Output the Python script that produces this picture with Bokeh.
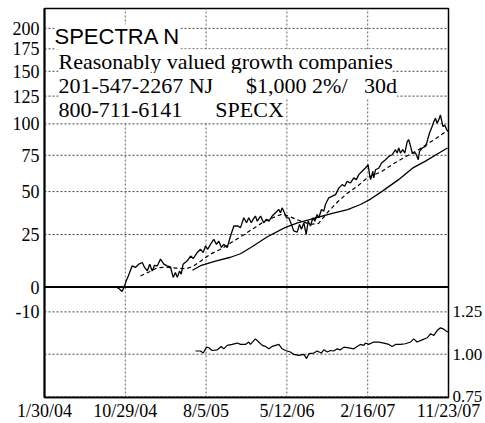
from bokeh.plotting import figure
from bokeh.models import (FixedTicker, LinearAxis, Range1d, LinearScale, Span,
                          Label, NumeralTickFormatter)
from bokeh.embed import file_html
from bokeh.resources import INLINE

# ---------------- data ----------------
# x axis: weeks since 1/30/04
date_ticks = [0, 39, 78, 117, 156, 195]
date_labels = ["1/30/04", "10/29/04", "8/5/05", "5/12/06", "2/16/07", "11/23/07"]

pct_ticks = [200, 175, 150, 125, 100, 75, 50, 25, 0, -10]
rel_ticks = [1.25, 1.00, 0.75]

fund_week = [34.7, 36.2, 37.4, 38.6, 39.6, 40.5, 42.3, 43.9, 45.5, 47.2,
             48.3, 49.6, 50.8, 52.0, 53.1, 54.4, 56.0, 57.6, 59.2, 60.8,
             62.1, 63.2, 64.1, 65.2, 66.0, 66.9, 68.9, 70.5, 71.8, 73.7,
             75.3, 76.6, 77.7, 78.8, 80.1, 81.7, 83.0, 84.1, 85.4, 86.5,
             88.2, 89.8, 91.4, 93.3, 94.6, 96.2, 97.5, 98.6, 99.8, 100.7,
             101.8, 102.7, 104.3, 105.8, 107.0, 108.3, 109.9, 111.5, 113.1, 113.9,
             114.7, 115.8, 116.8, 117.9, 119.2, 120.3, 122.0, 123.1, 124.0, 125.2,
             126.3, 127.3, 128.4, 129.5, 130.5, 131.6, 132.4, 133.7, 134.8, 135.6,
             137.2, 138.9, 140.5, 142.1, 143.7, 144.9, 146.1, 147.7, 149.3, 150.5,
             151.7, 153.3, 154.9, 156.2, 156.9, 157.4, 158.5, 158.9, 159.8, 161.4,
             162.7, 164.6, 166.2, 167.8, 169.4, 170.2, 171.0, 171.8, 172.9, 173.9,
             175.1, 175.8, 176.7, 177.5, 179.1, 180.4, 181.0, 182.3, 183.9, 184.7,
             185.8, 187.1, 187.9, 188.7, 189.5, 190.3, 191.1, 192.3, 193.2, 194.2,
             194.9]
fund_pct = [0.0, -0.8, -1.9, 0.4, 3.0, 4.9, 9.4, 8.7, 10.2, 11.0,
            8.7, 7.1, 10.2, 7.1, 9.7, 9.4, 12.6, 10.2, 9.4, 9.0,
            4.2, 6.4, 4.2, 7.1, 5.6, 10.2, 11.8, 14.1, 12.9, 15.8,
            17.4, 15.8, 19.1, 17.4, 19.9, 22.5, 19.9, 21.6, 18.3, 19.9,
            18.3, 24.2, 29.6, 29.6, 28.7, 34.2, 31.4, 34.2, 31.4, 33.3,
            35.2, 32.3, 35.2, 31.4, 33.3, 32.3, 35.2, 37.1, 39.0, 37.1,
            40.0, 37.1, 34.2, 34.2, 30.5, 26.9, 26.3, 30.5, 27.8, 31.4,
            25.1, 32.3, 29.6, 34.2, 32.3, 36.1, 34.2, 39.0, 38.0, 42.0,
            46.1, 47.1, 48.1, 52.4, 54.5, 53.4, 56.7, 55.6, 59.0, 57.8,
            61.2, 63.5, 65.8, 68.2, 61.2, 57.8, 63.5, 59.0, 64.6, 65.8,
            69.4, 71.7, 74.2, 75.4, 79.2, 76.7, 80.5, 76.7, 79.2, 76.7,
            85.6, 86.9, 81.7, 76.7, 76.7, 71.7, 77.9, 80.5, 81.7, 85.6,
            92.2, 97.7, 101.9, 104.8, 100.5, 103.4, 107.7, 97.7, 99.1, 94.9,
            93.6]

ma_short_week = [46.3, 50.2, 54.5, 58.9, 63.7, 68.5, 71.9, 75.3, 80.1, 85.9,
                 91.2, 96.1, 100.9, 105.7, 110.5, 114.9, 118.7, 123.6, 128.4, 132.3,
                 136.6, 141.4, 146.3, 151.1, 155.9, 162.2, 168.5, 174.2, 180.5, 187.3,
                 194.5]
ma_short_pct = [4.8, 6.5, 8.6, 8.8, 8.4, 8.1, 9.3, 11.6, 15.0, 17.9,
                21.5, 24.8, 28.3, 31.9, 34.4, 36.4, 34.7, 32.4, 30.5, 31.0,
                37.3, 43.5, 49.1, 53.5, 59.2, 62.9, 68.9, 73.9, 79.2, 86.1,
                94.5]

ma_long_week = [71.4, 75.3, 82.5, 89.8, 94.6, 99.4, 107.6, 115.8, 122.1, 129.8,
                138.0, 146.3, 152.5, 157.4, 163.1, 170.9, 177.6, 183.9, 190.2, 194.5]
ma_long_pct = [7.4, 9.5, 11.6, 13.5, 15.2, 18.2, 23.8, 28.6, 31.3, 33.8,
               36.4, 39.0, 42.0, 45.3, 50.3, 57.8, 65.7, 70.7, 76.5, 80.5]

rel_week = [72.9, 75.3, 76.6, 78.2, 79.3, 80.9, 83.4, 85.3, 86.5, 88.2,
            90.6, 93.0, 94.6, 97.0, 98.6, 99.4, 101.8, 103.4, 105.1, 106.7,
            108.3, 109.9, 111.5, 113.1, 114.7, 116.3, 118.7, 120.3, 122.7, 125.2,
            126.5, 127.6, 130.0, 131.6, 133.6, 134.8, 136.5, 138.0, 139.6, 141.3,
            142.9, 144.5, 146.9, 149.3, 150.9, 152.5, 154.1, 154.9, 156.5, 158.9,
            161.4, 163.8, 166.2, 167.8, 169.4, 171.8, 174.2, 176.7, 178.2, 179.9,
            182.3, 184.7, 186.3, 187.9, 189.5, 191.1, 192.4, 193.5, 194.7]
rel_value = [1.019, 1.019, 1.007, 1.042, 1.038, 1.022, 1.026, 1.046, 1.032, 1.052,
             1.058, 1.066, 1.058, 1.058, 1.072, 1.058, 1.091, 1.072, 1.052, 1.046,
             1.032, 1.046, 1.052, 1.058, 1.032, 1.022, 1.013, 0.999, 0.993, 0.999,
             0.974, 1.003, 1.007, 1.019, 1.007, 1.026, 1.013, 1.022, 1.019, 1.032,
             1.026, 1.042, 1.038, 1.032, 1.046, 1.058, 1.052, 1.066, 1.058, 1.072,
             1.072, 1.066, 1.058, 1.046, 1.058, 1.058, 1.062, 1.072, 1.091, 1.072,
             1.085, 1.097, 1.121, 1.111, 1.140, 1.156, 1.150, 1.140, 1.131]

# ---------------- layout geometry (canvas px) ----------------
W, H = 485, 423
FRAME_LEFT, FRAME_RIGHT = 44, 448
FRAME_TOP, FRAME_BOTTOM = 8, 399
ZERO_Y, PX_PER_DECADE = 288, 545.0        # pixel of the 0 line, log scale
REL_125_Y, REL_075_Y = 313, 398           # pixels of rel 1.25 / 0.75


def lv(py):   # pixel -> value on the (100 + pct) log axis
    return 10 ** (2 + (ZERO_Y - py) / PX_PER_DECADE)


def rv(py):   # pixel -> value on relative-strength axis
    return 1.25 - (py - REL_125_Y) * 0.5 / (REL_075_Y - REL_125_Y)


def wx(px):   # pixel -> week
    return (px - FRAME_LEFT) * date_ticks[-1] / (FRAME_RIGHT - FRAME_LEFT)


y_lo, y_hi = lv(FRAME_BOTTOM), lv(FRAME_TOP)
p = figure(width=W, height=H, output_backend="svg", toolbar_location=None,
           x_range=Range1d(date_ticks[0], date_ticks[-1]),
           y_range=Range1d(y_lo, y_hi),
           y_axis_type="log",
           min_border_left=FRAME_LEFT, min_border_right=W - FRAME_RIGHT,
           min_border_top=FRAME_TOP, min_border_bottom=H - FRAME_BOTTOM)
p.extra_y_ranges = {"rel": Range1d(rv(FRAME_BOTTOM), rv(FRAME_TOP))}
p.extra_y_scales = {"rel": LinearScale()}

p.background_fill_color = "white"
p.border_fill_color = "white"
p.outline_line_color = "black"
p.outline_line_width = 1.5

SERIF = "Liberation Serif"

# axes
yax = p.yaxis[0]
yax.ticker = FixedTicker(ticks=[100 + t for t in pct_ticks])
yax.major_label_overrides = {100 + t: str(t) for t in pct_ticks}
yax.major_tick_out = 0
yax.major_tick_in = 0
yax.minor_tick_out = 0
yax.minor_tick_in = 0
yax.axis_line_width = 2
yax.axis_line_color = "black"
yax.major_label_standoff = 5
yax.major_label_text_font = SERIF
yax.major_label_text_font_size = "18px"
yax.major_label_text_color = "black"

xax = p.xaxis[0]
xax.ticker = FixedTicker(ticks=date_ticks)
xax.major_label_overrides = {t: l for t, l in zip(date_ticks, date_labels)}
xax.major_tick_out = 0
xax.major_tick_in = 0
xax.minor_tick_out = 0
xax.axis_line_color = "black"
xax.axis_line_width = 1.5
xax.major_label_standoff = 3
xax.major_label_text_font = SERIF
xax.major_label_text_font_size = "18px"
xax.major_label_text_color = "black"

rax = LinearAxis(y_range_name="rel", ticker=FixedTicker(ticks=rel_ticks),
                 formatter=NumeralTickFormatter(format="0.00"))
rax.major_tick_out = 0
rax.major_tick_in = 0
rax.minor_tick_out = 0
rax.axis_line_color = None
rax.major_label_standoff = 4
rax.major_label_text_font = SERIF
rax.major_label_text_font_size = "17px"
rax.major_label_text_color = "black"
p.add_layout(rax, "right")

# grids: dotted segments at the tick positions (drawn as glyphs)
p.xgrid.visible = False
p.ygrid.visible = False
h_ticks = [100 + t for t in pct_ticks if t != 0]
p.segment(x0=[date_ticks[0]] * len(h_ticks), x1=[date_ticks[-1]] * len(h_ticks),
          y0=h_ticks, y1=h_ticks, line_color="#444444", line_width=1, line_dash="2 2")
r_ticks = rel_ticks[1:]
p.segment(x0=[date_ticks[0]] * len(r_ticks), x1=[date_ticks[-1]] * len(r_ticks),
          y0=r_ticks, y1=r_ticks, y_range_name="rel",
          line_color="#444444", line_width=1, line_dash="2 2")
v_ticks = date_ticks[1:-1]
p.segment(x0=v_ticks, x1=v_ticks, y0=[y_lo] * len(v_ticks), y1=[y_hi] * len(v_ticks),
          line_color="#666666", line_width=1, line_dash="2 2")

# zero line
p.add_layout(Span(location=100, dimension="width", line_color="black", line_width=2))

# series
p.line(fund_week, [100 + v for v in fund_pct], line_color="black", line_width=1.3)
p.line(ma_short_week, [100 + v for v in ma_short_pct], line_color="black",
       line_width=1.2, line_dash="4 3")
p.line(ma_long_week, [100 + v for v in ma_long_pct], line_color="black", line_width=1.3)
p.line(rel_week, rel_value, line_color="black", line_width=1.2, y_range_name="rel")

# header texts
NB = "\u00a0"
texts = [
    ("SPECTRA N", 54, 36.5, "Liberation Sans"),
    ("Reasonably valued growth companies", 58, 61.5, SERIF),
    ("201-547-2267 NJ" + NB * 6 + "$1,000" + NB + "2%/" + NB * 3 + "30d", 58, 85.5, SERIF),
    ("800-711-6141" + NB * 6 + "SPECX", 58, 110, SERIF),
]
for txt, px, py, font in texts:
    p.add_layout(Label(x=wx(px), y=lv(py), text=txt, text_font=font,
                       text_font_size="22px", text_color="black",
                       text_align="left", text_baseline="alphabetic",
                       background_fill_color="white"))

open("out.html", "w").write(file_html(p, INLINE))
